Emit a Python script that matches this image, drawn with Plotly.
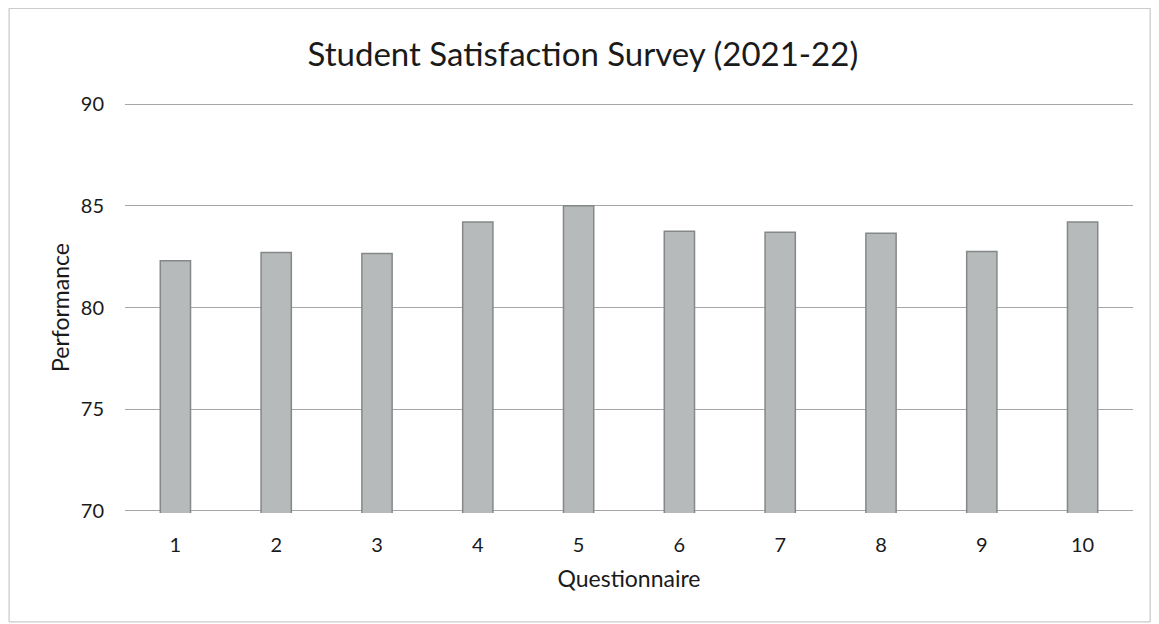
import plotly.graph_objects as go

questions = ["1", "2", "3", "4", "5", "6", "7", "8", "9", "10"]
performance = [82.3, 82.7, 82.65, 84.2, 85.0, 83.75, 83.7, 83.65, 82.75, 84.2]
y_ticks = [70, 75, 80, 85, 90]

fig = go.Figure()
fig.add_trace(go.Bar(
    x=questions, y=performance, base=0,
    marker=dict(color="#b7baba", line=dict(color="#858888", width=1.5)),
    width=0.3,
))

font_family = "Lato, 'Open Sans', sans-serif"
fig.update_layout(
    width=1159, height=624,
    paper_bgcolor="white", plot_bgcolor="white",
    margin=dict(l=117, r=34, t=94, b=119),
    title=dict(text="Student Satisfaction Survey (2021-22)", x=0.496, xanchor="center",
               y=0.925, yanchor="middle",
               font=dict(family=font_family, size=33, color="#1a1a1a")),
    font=dict(family=font_family, color="#1a1a1a"),
    showlegend=False,
    xaxis=dict(
        type="category", showgrid=False, showline=False, zeroline=False,
        ticks="", tickfont=dict(size=20, color="#1a1a1a"), ticklabelstandoff=18,
        title=dict(text="Questionnaire", font=dict(size=23, color="#1a1a1a"), standoff=15),
    ),
    yaxis=dict(
        range=[69.9, 90.1], tickvals=y_ticks, showgrid=True, gridcolor="#a6a6a6",
        gridwidth=1, zeroline=False, showline=False, ticks="",
        tickfont=dict(size=20, color="#1a1a1a"), ticklabelstandoff=20,
        title=dict(text="Performance", font=dict(size=23, color="#1a1a1a"), standoff=4),
    ),
    shapes=[dict(type="rect", xref="paper", yref="paper",
                 x0=-0.115, x1=1.017, y0=-0.265, y1=1.228,
                 line=dict(color="#bdbdbd", width=1))],
)

fig.write_html("out.html")
